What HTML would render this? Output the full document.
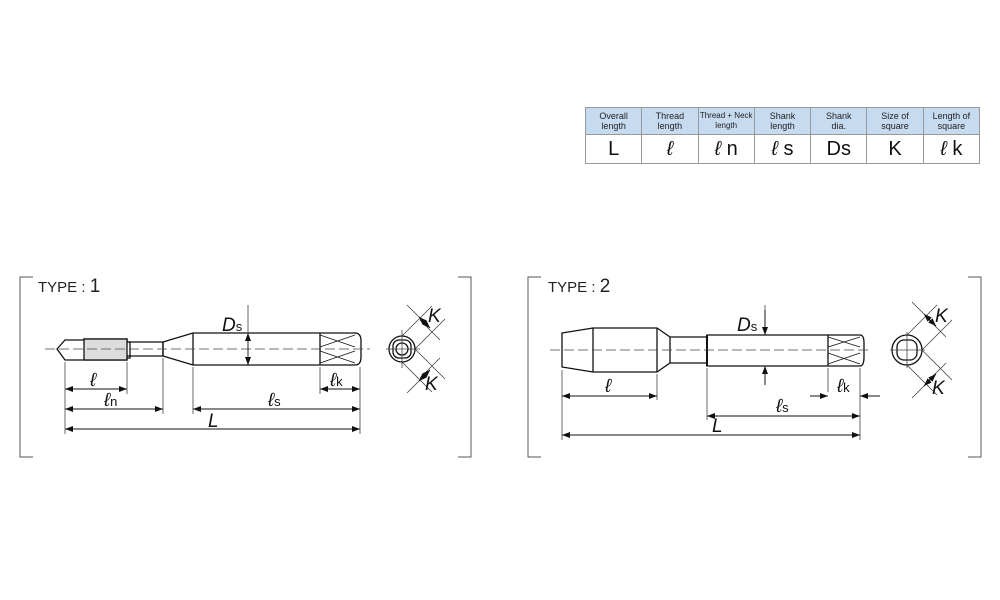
<!DOCTYPE html>
<html><head><style>
body{margin:0;background:#fff;width:1000px;height:600px;overflow:hidden;font-family:"Liberation Sans",sans-serif}
table{position:absolute;left:585px;top:107px;border-collapse:collapse;width:395px;table-layout:fixed}
td{border:1px solid #999;text-align:center;padding:0}
tr.h td{background:#c7dbf0;height:26px;font-size:9px;line-height:10px;color:#222}
tr.v td{height:28px;font-size:20px;color:#111}
</style></head><body>
<table><tr class="h"><td>Overall<br>length</td><td>Thread<br>length</td><td style="font-size:8px">Thread + Neck<br>length</td><td>Shank<br>length</td><td>Shank<br>dia.</td><td>Size of<br>square</td><td>Length of<br>square</td></tr>
<tr class="v"><td>L</td><td><i>ℓ</i></td><td><i>ℓ</i> n</td><td><i>ℓ</i> s</td><td>Ds</td><td>K</td><td><i>ℓ</i> k</td></tr></table>
<svg width="1000" height="600" style="position:absolute;left:0;top:0" font-family="Liberation Sans, sans-serif">
<defs><marker id="a" markerWidth="8" markerHeight="6" refX="8" refY="3" orient="auto-start-reverse" markerUnits="userSpaceOnUse"><path d="M0,0L8,3L0,6z" fill="#111"/></marker></defs>
<g fill="none" stroke="#555" stroke-width="1">
<path d="M33,277H20V457H33M458,277H471V457H458"/>
<path d="M541,277H528V457H541M968,277H981V457H968"/>
</g>
<text x="38" y="292" font-size="15" fill="#222">TYPE : <tspan font-size="19">1</tspan></text>
<text x="548" y="292" font-size="15" fill="#222">TYPE : <tspan font-size="19">2</tspan></text>
<g stroke="#111" stroke-width="1.3" fill="none">
<path d="M57,349L65,340H84V339H127V342H130V358H127V360H84V360H65Z"/>
<rect x="84" y="339" width="43" height="21" fill="#ddd"/>
<path d="M127,342H163V356H127"/>
<path d="M163,342L193,333H355Q361,333 361,341V357Q361,365 355,365H193L163,356"/>
<line x1="193" y1="333" x2="193" y2="365"/>
<line x1="320" y1="333" x2="320" y2="365"/>
<path d="M320,335L355,347M320,347L355,335M320,351L355,363M320,363L355,351" stroke-width="0.7"/>
<line x1="163" y1="342" x2="163" y2="356"/>
<path d="M562,333L593,328H657L670,337H707V335H860Q864,335 864,343V357Q864,366 860,366H707V363H670L657,372H593L562,367Z"/>
<line x1="593" y1="328" x2="593" y2="372"/><line x1="657" y1="328" x2="657" y2="372"/>
<line x1="670" y1="337" x2="670" y2="363"/><line x1="707" y1="335" x2="707" y2="366" stroke-width="2"/>
<line x1="828" y1="335" x2="828" y2="366"/>
<path d="M828,337L860,347M828,347L860,337M828,353L860,364M828,364L860,353" stroke-width="0.7"/>
<circle cx="402" cy="349" r="13"/><rect x="393" y="340" width="18" height="18" rx="6"/><circle cx="402" cy="349" r="6"/>
<circle cx="907" cy="350" r="15"/><rect x="897" y="340" width="20" height="20" rx="7"/>
</g>
<g stroke="#444" stroke-width="0.8" stroke-dasharray="10,4" fill="none">
<line x1="45" y1="349" x2="370" y2="349"/><line x1="550" y1="350" x2="870" y2="350"/>
</g>
<g stroke="#444" stroke-width="0.8" fill="none">
<line x1="386" y1="349" x2="420" y2="349"/><line x1="402" y1="330" x2="402" y2="368"/>
<line x1="890" y1="350" x2="925" y2="350"/><line x1="907" y1="332" x2="907" y2="368"/>
<path d="M65,362V434M127,362V394M163,358V414M193,367V414M320,367V394M360,367V434M248,305V333"/>
<path d="M562,370V440M657,374V400M707,368V420M828,368V392M860,368V440M765,305V335M765,366V385"/>
<path d="M402,336L432,306M415,349L445,319M402,362L432,392M415,349L445,379M407,305L427,325M420,320L440,340M427,373L407,393M440,358L420,378"/>
<path d="M907,335L937,305M922,350L952,320M907,365L937,395M922,350L952,380M912,302L932,322M926,317L946,337M932,378L912,398M946,363L926,383"/>
</g>
<g stroke="#111" stroke-width="0.9" fill="none" marker-start="url(#a)" marker-end="url(#a)">
<line x1="65" y1="389" x2="127" y2="389"/><line x1="65" y1="409" x2="163" y2="409"/>
<line x1="193" y1="409" x2="360" y2="409"/><line x1="65" y1="429" x2="360" y2="429"/>
<line x1="320" y1="389" x2="360" y2="389"/>
<line x1="248" y1="333" x2="248" y2="365"/>
<line x1="562" y1="396" x2="657" y2="396"/><line x1="707" y1="416" x2="860" y2="416"/>
<line x1="562" y1="435" x2="860" y2="435"/>
<line x1="419" y1="317" x2="430" y2="328"/><line x1="430" y1="370" x2="419" y2="381"/>
<line x1="924" y1="314" x2="936" y2="326"/><line x1="936" y1="374" x2="924" y2="386"/>
</g>
<g stroke="#111" stroke-width="0.9" marker-end="url(#a)">
<line x1="810" y1="396" x2="828" y2="396"/><line x1="880" y1="396" x2="860" y2="396"/>
<line x1="765" y1="310" x2="765" y2="335"/><line x1="765" y1="385" x2="765" y2="366"/>
</g>
<g fill="#111" font-style="italic" font-size="19">
<text x="90" y="386">ℓ</text><text x="104" y="406">ℓ<tspan font-size="13" font-style="normal">n</tspan></text>
<text x="268" y="406">ℓ<tspan font-size="13" font-style="normal">s</tspan></text>
<text x="208" y="427">L</text>
<text x="330" y="386">ℓ<tspan font-size="13" font-style="normal">k</tspan></text>
<text x="222" y="331">D<tspan font-size="13" font-style="normal">s</tspan></text>
<text x="428" y="322">K</text><text x="425" y="390">K</text>
<text x="605" y="392">ℓ</text>
<text x="776" y="412">ℓ<tspan font-size="13" font-style="normal">s</tspan></text>
<text x="712" y="432">L</text>
<text x="837" y="392">ℓ<tspan font-size="13" font-style="normal">k</tspan></text>
<text x="737" y="331">D<tspan font-size="13" font-style="normal">s</tspan></text>
<text x="935" y="322">K</text><text x="932" y="394">K</text>
</g>
</svg>
</body></html>
